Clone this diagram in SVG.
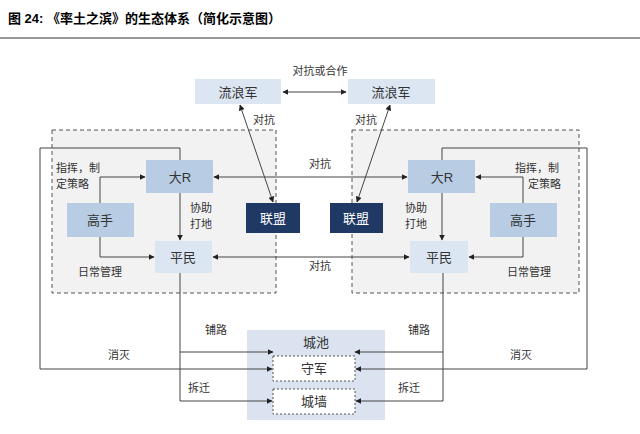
<svg xmlns="http://www.w3.org/2000/svg" width="640" height="434" viewBox="0 0 640 434">
<defs>
<marker id="a" viewBox="0 0 10 10" refX="9" refY="5" markerWidth="6" markerHeight="6" orient="auto-start-reverse"><path d="M0,0L10,5L0,10z" fill="#222"/></marker>
<style>
text{font-family:"Liberation Sans","Noto Sans CJK SC",sans-serif;fill:#333}
.t{font-size:13px;text-anchor:middle}
.s{font-size:11px}
.c{fill:none;stroke:#444;stroke-width:1}
.l{fill:#dce6f2}.m{fill:#b8cce4}.d{fill:#1f3864}
.ct{fill:#f2f2f2;stroke:#555;stroke-dasharray:4 3}
</style>
</defs>
<rect width="640" height="434" fill="#fff"/>
<text x="8" y="23" style="font-size:13px;font-weight:bold;fill:#000">图 24:  《率土之滨》的生态体系（简化示意图）</text>
<line x1="0" y1="38" x2="640" y2="38" stroke="#333" stroke-width="1.2"/>
<rect class="ct" x="52" y="130" width="224" height="163"/>
<rect class="ct" x="352" y="130" width="227" height="163"/>
<rect x="247" y="330" width="138" height="90" fill="#dbe3f0"/>
<g id="liulang1"><rect class="l" x="195" y="79" width="86" height="25"/><text class="t" x="238" y="97">流浪军</text></g>
<g id="liulang2"><rect class="l" x="348" y="79" width="87" height="25"/><text class="t" x="391" y="97">流浪军</text></g>
<g id="daR1"><rect class="m" x="146" y="160" width="67" height="33"/><text class="t" x="180" y="182">大R</text></g>
<g id="pingmin1"><rect class="l" x="155" y="241" width="57" height="32"/><text class="t" x="183" y="262">平民</text></g>
<g id="gaoshou1"><rect class="m" x="67" y="203" width="67" height="34"/><text class="t" x="100" y="225">高手</text></g>
<g id="lianmeng1"><rect class="d" x="246" y="203" width="54" height="30"/><text class="t" x="273" y="223" style="fill:#fff">联盟</text></g>
<g id="lianmeng2"><rect class="d" x="330" y="203" width="53" height="30"/><text class="t" x="356" y="223" style="fill:#fff">联盟</text></g>
<g id="daR2"><rect class="m" x="408" y="160" width="67" height="33"/><text class="t" x="442" y="182">大R</text></g>
<g id="pingmin2"><rect class="l" x="410" y="241" width="58" height="32"/><text class="t" x="439" y="262">平民</text></g>
<g id="gaoshou2"><rect class="m" x="490" y="203" width="67" height="34"/><text class="t" x="523" y="225">高手</text></g>
<g id="chengchi"><text class="t" x="316" y="347">城池</text></g>
<g id="shoujun"><rect x="273" y="356" width="82" height="25" fill="#fff" stroke="#555" stroke-dasharray="2 2"/><text class="t" x="314" y="373">守军</text></g>
<g id="chengqiang"><rect x="273" y="389" width="82" height="25" fill="#fff" stroke="#555" stroke-dasharray="2 2"/><text class="t" x="314" y="406">城墙</text></g>
<g id="connectors">
<line class="c" x1="283" y1="92" x2="346" y2="92" marker-start="url(#a)" marker-end="url(#a)"/>
<line class="c" x1="240" y1="105" x2="273" y2="202" marker-start="url(#a)" marker-end="url(#a)"/>
<line class="c" x1="390" y1="105" x2="357" y2="202" marker-start="url(#a)" marker-end="url(#a)"/>
<line class="c" x1="214" y1="177" x2="407" y2="177" marker-start="url(#a)" marker-end="url(#a)"/>
<line class="c" x1="213" y1="257" x2="409" y2="257" marker-start="url(#a)" marker-end="url(#a)"/>
<polyline class="c" points="100,203 100,177 145,177" marker-end="url(#a)"/>
<polyline class="c" points="100,237 100,257 154,257" marker-end="url(#a)"/>
<polyline class="c" points="523,203 523,177 476,177" marker-end="url(#a)"/>
<polyline class="c" points="523,237 523,257 469,257" marker-end="url(#a)"/>
<line class="c" x1="180" y1="193" x2="180" y2="240" marker-end="url(#a)"/>
<line class="c" x1="442" y1="193" x2="442" y2="240" marker-end="url(#a)"/>
<polyline class="c" points="180,160 180,148 40,148 40,369 272,369" marker-end="url(#a)"/>
<polyline class="c" points="442,160 442,148 587,148 587,369 356,369" marker-end="url(#a)"/>
<polyline class="c" points="180,273 180,401 272,401" marker-end="url(#a)"/>
<line class="c" x1="180" y1="352" x2="273" y2="352" marker-end="url(#a)"/>
<polyline class="c" points="443,273 443,401 356,401" marker-end="url(#a)"/>
<line class="c" x1="443" y1="352" x2="355" y2="352" marker-end="url(#a)"/>
</g>
<g class="s">
<text x="320" y="75" text-anchor="middle">对抗或合作</text>
<text x="253" y="124">对抗</text>
<text x="355" y="124">对抗</text>
<text x="320" y="168" text-anchor="middle">对抗</text>
<text x="320" y="270" text-anchor="middle">对抗</text>
<text x="56" y="172">指挥，制</text>
<text x="56" y="188">定策略</text>
<text x="78" y="276">日常管理</text>
<text x="190" y="212">协助</text>
<text x="190" y="228">打地</text>
<text x="405" y="212">协助</text>
<text x="405" y="228">打地</text>
<text x="515" y="172">指挥，制</text>
<text x="528" y="188">定策略</text>
<text x="507" y="276">日常管理</text>
<text x="205" y="334">铺路</text>
<text x="408" y="334">铺路</text>
<text x="108" y="359">消灭</text>
<text x="510" y="359">消灭</text>
<text x="188" y="392">拆迁</text>
<text x="398" y="392">拆迁</text>
</g>
</svg>
